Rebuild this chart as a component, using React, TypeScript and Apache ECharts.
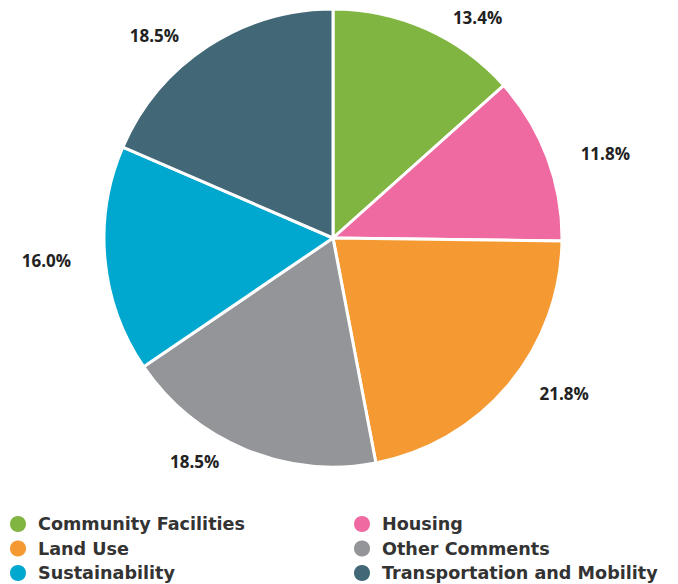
import React, { useEffect, useRef } from "react";
import * as echarts from "echarts";

const categories = [
  "Community Facilities",
  "Housing",
  "Land Use",
  "Other Comments",
  "Sustainability",
  "Transportation and Mobility",
];
const values = [13.4, 11.8, 21.8, 18.5, 16.0, 18.5];
const colors = ["#80b541", "#ef6aa0", "#f59a32", "#939598", "#00a7ce", "#426877"];
const leftLegend = ["Community Facilities", "Land Use", "Sustainability"];
const rightLegend = ["Housing", "Other Comments", "Transportation and Mobility"];

const LABEL_FONT = "'Open Sans', 'Noto Sans', sans-serif";
const LEGEND_FONT = "'DejaVu Sans', sans-serif";

export default function App() {
  const ref = useRef<HTMLDivElement>(null);
  useEffect(() => {
    if (!ref.current) return;
    const chart = echarts.init(ref.current, undefined, { renderer: "svg" });
    const legendCommon = {
      orient: "vertical",
      icon: "circle",
      itemWidth: 30,
      itemHeight: 18,
      itemGap: 4.5,
      padding: 0,
      top: 514,
      height: 80,
      textStyle: {
        fontFamily: LEGEND_FONT,
        fontWeight: "bold",
        fontSize: 17.6,
        lineHeight: 18,
        color: "#333",
      },
    };
    chart.setOption({
      animation: false,
      color: colors,
      legend: [
        { ...legendCommon, left: 8, data: leftLegend },
        { ...legendCommon, left: 352, data: rightLegend },
      ],
      series: [
        {
          type: "pie",
          center: [333, 238],
          radius: 229,
          startAngle: 90,
          clockwise: true,
          itemStyle: { borderColor: "#fff", borderWidth: 3 },
          label: {
            show: true,
            position: "outside",
            formatter: (p: any) => p.value.toFixed(1) + "%",
            fontFamily: LABEL_FONT,
            fontWeight: "bold",
            fontSize: 17,
            color: "#222",
          },
          labelLine: { show: false, length: 13, length2: 16 },
          data: categories.map((c, i) => ({ name: c, value: values[i] })),
        },
      ],
    });
    return () => chart.dispose();
  }, []);
  return (
    <div
      ref={ref}
      style={{ position: "fixed", left: 0, top: 0, width: 678, height: 584, background: "#fff" }}
    />
  );
}
